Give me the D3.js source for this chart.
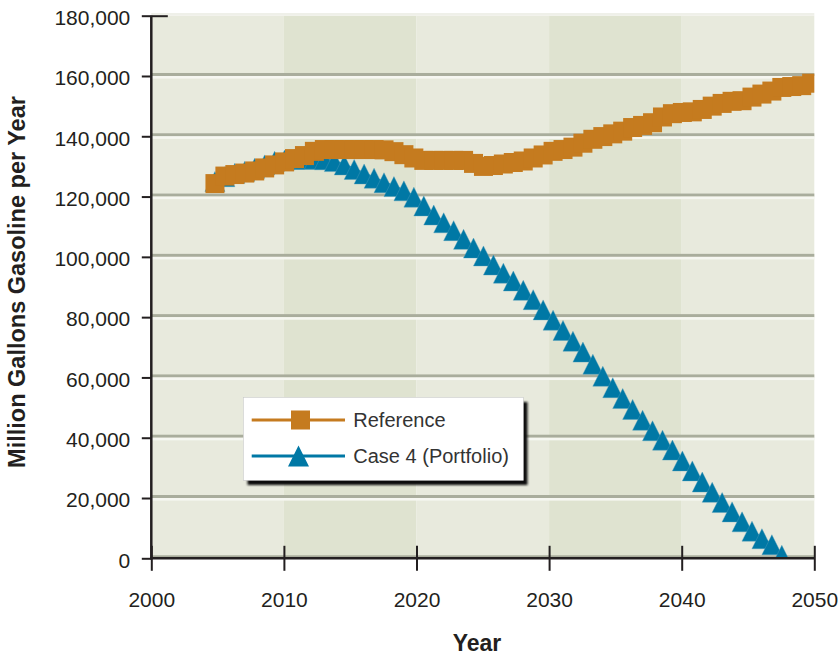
<!DOCTYPE html>
<html><head><meta charset="utf-8">
<script src="https://cdn.jsdelivr.net/npm/d3@7"></script>
<style>
body{margin:0;background:#fff;}
svg{display:block;font-family:"Liberation Sans",Arial,Helvetica,sans-serif;}
</style>
</head><body>
<svg id="chart" width="840" height="657"></svg>
<script>
// ---------- data ----------
const years = [
  2004.8, 2005.55, 2006.3, 2007.05, 2007.8, 2008.55, 2009.3, 2010.05, 2010.8, 2011.55,
  2012.3, 2013.05, 2013.8, 2014.55, 2015.3, 2016.05, 2016.8, 2017.55, 2018.3, 2019.05,
  2019.8, 2020.55, 2021.3, 2022.05, 2022.8, 2023.55, 2024.3, 2025.05, 2025.8, 2026.55,
  2027.3, 2028.05, 2028.8, 2029.55, 2030.3, 2031.05, 2031.8, 2032.55, 2033.3, 2034.05,
  2034.8, 2035.55, 2036.3, 2037.05, 2037.8, 2038.55, 2039.3, 2040.05, 2040.8, 2041.55,
  2042.3, 2043.05, 2043.8, 2044.55, 2045.3, 2046.05, 2046.8, 2047.55, 2048.3, 2049.05, 2049.8
];
const referenceValues = [
  124300, 126800, 127300, 127800, 128500, 129500, 130500, 131500, 132600, 133600,
  135000, 135600, 135600, 135600, 135600, 135600, 135600, 135500, 134900, 133900,
  132800, 132000, 132000, 132000, 132000, 132000, 131000, 130000, 130300, 130800,
  131300, 131800, 132800, 133800, 135000, 135600, 136400, 137700, 139000, 139900,
  140800, 141700, 142900, 143600, 144500, 146400, 147500, 147900, 148100, 148900,
  150000, 150900, 151600, 151800, 153000, 154000, 155000, 156200, 156500, 156800, 157600
];
const portfolioValues = [
  125000, 126600, 127700, 128400, 129400, 130500, 131700, 132100, 132300, 132400,
  132400, 132200, 131600, 130500, 129000, 127500, 126100, 124600, 123300, 121900,
  119800, 116900, 113900, 111300, 108700, 105800, 102900, 100300, 97300, 94600,
  92000, 88900, 85800, 82400, 79000, 75600, 72000, 68400, 64400, 60400,
  56600, 53000, 49400, 45800, 42300, 39200, 35900, 32300, 29000, 25300,
  21900, 18500, 15400, 12100, 9000, 6500, 4500, 1000
];
const yTicks = [0, 20000, 40000, 60000, 80000, 100000, 120000, 140000, 160000, 180000];
const xTicks = [2000, 2010, 2020, 2030, 2040, 2050];
const bandStarts = [2000, 2010, 2020, 2030, 2040];
const seriesNames = ["Reference", "Case 4 (Portfolio)"];
const seriesColors = ["#c57b1f", "#0078a5"];

// ---------- setup ----------
const svg = d3.select("#chart");
const x = d3.scaleLinear().domain([2000, 2050]).range([151.3, 814.3]);
const y = d3.scaleLinear().domain([0, 180000]).range([558.3, 15.7]);
const ink = "#231f20";

const defs = svg.append("defs");
defs.append("clipPath").attr("id", "plotClip").append("rect")
  .attr("x", x(2000)).attr("y", y(180000))
  .attr("width", x(2050) - x(2000)).attr("height", y(0) - y(180000));
const blur = defs.append("filter").attr("id", "shadow").attr("x", "-10%").attr("y", "-10%").attr("width", "120%").attr("height", "130%");
blur.append("feGaussianBlur").attr("stdDeviation", 1.2);

// bands
svg.append("g").selectAll("rect").data(bandStarts).join("rect")
  .attr("x", d => x(d)).attr("width", d => x(d + 10) - x(d))
  .attr("y", y(180000)).attr("height", y(0) - y(180000))
  .attr("fill", (d, i) => i % 2 ? "#dfe3d0" : "#e8eadd");

// top light line
svg.append("rect").attr("x", x(2000)).attr("width", x(2050) - x(2000))
  .attr("y", y(180000) - 2.7).attr("height", 2.7).attr("fill", "#eff0e9");

// gridlines (gray with white highlight below)
const grid = svg.append("g");
grid.selectAll("rect.g").data(yTicks.filter(v => v < 180000)).join("rect").attr("class", "g")
  .attr("x", x(2000)).attr("width", x(2050) - x(2000))
  .attr("y", d => y(d) - 3).attr("height", 3).attr("fill", "#a9ad9c");
grid.selectAll("rect.w").data(yTicks.filter(v => v > 0 && v < 180000)).join("rect").attr("class", "w")
  .attr("x", x(2000)).attr("width", x(2050) - x(2000))
  .attr("y", d => y(d)).attr("height", 2.6).attr("fill", "#f6f7f1");

// ---------- series ----------
const plot = svg.append("g").attr("clip-path", "url(#plotClip)");
const portfolioPts = portfolioValues.map((v, i) => [years[i], v]);
const referencePts = referenceValues.map((v, i) => [years[i], v]);
const line = d3.line().x(d => x(d[0])).y(d => y(d[1]));

const tri = (cx, cy, s) => `M${cx - s / 2},${cy + s / 2}L${cx},${cy - s / 2}L${cx + s / 2},${cy + s / 2}Z`;

plot.append("path").datum(portfolioPts).attr("d", line)
  .attr("fill", "none").attr("stroke", seriesColors[1]).attr("stroke-width", 3);
plot.append("g").selectAll("path").data(portfolioPts).join("path")
  .attr("d", d => tri(x(d[0]), y(d[1]), 20))
  .attr("fill", seriesColors[1]).attr("stroke", "#4f9dbc").attr("stroke-width", 0.4);

plot.append("path").datum(referencePts).attr("d", line)
  .attr("fill", "none").attr("stroke", seriesColors[0]).attr("stroke-width", 3);
plot.append("g").selectAll("rect").data(referencePts).join("rect")
  .attr("x", d => x(d[0]) - 9.5).attr("y", d => y(d[1]) - 9.5)
  .attr("width", 19).attr("height", 19).attr("fill", seriesColors[0]);

// ---------- axes ----------
const yAxis = svg.append("g").attr("transform", `translate(${x(2000)},0)`)
  .call(d3.axisLeft(y).tickValues(yTicks).tickSize(9.5).tickPadding(11.5).tickFormat(d3.format(",")));
yAxis.select(".domain").remove();
yAxis.selectAll(".tick line").attr("stroke", ink).attr("stroke-width", 2)
  .attr("x2", d => d === 180000 ? 16.5 : -9.5).attr("x1", d => d === 180000 ? -9.5 : 0);
yAxis.selectAll(".tick text").attr("fill", ink).attr("font-size", 21).attr("dy", "0.42em");

const xAxis = svg.append("g").attr("transform", `translate(0,${y(0)})`)
  .call(d3.axisBottom(x).tickValues(xTicks).tickSize(12).tickPadding(22).tickFormat(d3.format("d")));
xAxis.select(".domain").remove();
xAxis.selectAll(".tick line").attr("stroke", ink).attr("stroke-width", 2).attr("y1", -12.5).attr("y2", 12.5);
xAxis.selectAll(".tick text").attr("fill", ink).attr("font-size", 21);

// axis lines
svg.append("line").attr("x1", x(2000)).attr("x2", x(2000)).attr("y1", y(180000)).attr("y2", y(0) + 1)
  .attr("stroke", ink).attr("stroke-width", 2.5);
svg.append("line").attr("x1", x(2000) - 1).attr("x2", x(2050)).attr("y1", y(0)).attr("y2", y(0))
  .attr("stroke", ink).attr("stroke-width", 2.5);

// titles
svg.append("text").attr("transform", "translate(25,282) rotate(-90)")
  .attr("text-anchor", "middle").attr("font-weight", "bold").attr("font-size", 23.5).attr("fill", ink)
  .text("Million Gallons Gasoline per Year");
svg.append("text").attr("x", 477).attr("y", 651)
  .attr("text-anchor", "middle").attr("font-weight", "bold").attr("font-size", 23).attr("fill", ink)
  .text("Year");

// ---------- legend ----------
const lg = svg.append("g");
lg.append("rect").attr("x", 247.5).attr("y", 402).attr("width", 280).attr("height", 83)
  .attr("fill", "#111").attr("filter", "url(#shadow)");
lg.append("rect").attr("x", 243.3).attr("y", 397.3).attr("width", 280).attr("height", 83)
  .attr("fill", "#fff").attr("stroke", "#c8c8c8").attr("stroke-width", 0.6);
const legendY = [420, 456];
seriesNames.forEach((name, i) => {
  const g = lg.append("g");
  g.append("line").attr("x1", 251.7).attr("x2", 345).attr("y1", legendY[i]).attr("y2", legendY[i])
    .attr("stroke", seriesColors[i]).attr("stroke-width", 3);
  if (i === 0) {
    g.append("rect").attr("x", 300.5 - 9.5).attr("y", legendY[i] - 9.5).attr("width", 19).attr("height", 19)
      .attr("fill", seriesColors[i]);
  } else {
    g.append("path").attr("d", tri(298.5, legendY[i], 21)).attr("fill", seriesColors[i]);
  }
  g.append("text").attr("x", 353.3).attr("y", legendY[i] + 7).attr("font-size", 20).attr("fill", "#333")
    .text(name);
});
</script>
</body></html>
